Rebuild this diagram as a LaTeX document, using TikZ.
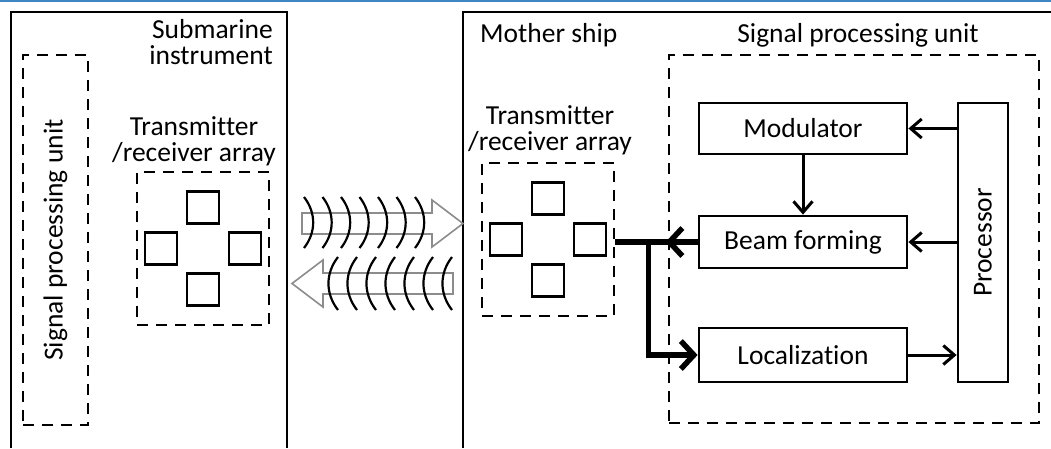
\documentclass[tikz,border=0pt]{standalone}
\usepackage{fontspec}
\setmainfont{Carlito}[Ligatures=NoCommon]
\usetikzlibrary{arrows.meta,calc}
\definecolor{topblue}{RGB}{62,134,196}
\definecolor{hollowgray}{RGB}{140,140,140}

\begin{document}
\begin{tikzpicture}[x=1pt, y=-1pt,
  font=\fontsize{27.5}{26}\selectfont,
  frame/.style={line width=2.8pt},
  dbox/.style={draw, line width=2.8pt, dash pattern=on 11pt off 8pt, inner sep=0pt},
  blk/.style={draw, line width=2.8pt, inner sep=0pt},
  elem/.style={draw, line width=2.8pt, minimum size=32pt, inner sep=0pt},
  link/.style={line width=3pt, -{Straight Barb[length=11pt, width=19pt]}},
  bus/.style={line width=5.5pt},
  busarrow/.style={bus, -{Straight Barb[length=13pt, width=28pt]}},
  hollow/.style={draw=hollowgray, fill=white, line width=1.6pt},
  wave/.style={line width=2.2pt},
  txt/.style={inner sep=0pt}]
  \useasboundingbox (0,0) rectangle (1051,448);
  \draw[topblue, line width=2.5pt] (0,1) -- (1051,1);
  \draw[frame] (11,448) -- (11,12) -- (287,12) -- (287,448);
  \draw[frame] (463,448) -- (463,12) -- (1051,12);

  \node[txt, anchor=east, align=right] (subm) at (273,42) {Submarine\\instrument};
  \node[txt, anchor=west] (mship) at (480,35) {Mother ship};
  \node[txt] (spuRtxt) at (858,35) {Signal processing unit};
  \node[dbox, minimum width=65pt, minimum height=370pt] (spuL) at (55.5,240)
    {\rotatebox{90}{Signal processing unit}};
  \node[dbox, minimum width=370pt, minimum height=368pt] (spuR) at (854,239) {};

  \node[txt, align=center] (arrLtxt) at (194,141) {Transmitter\\/receiver array};
  \node[txt, align=center] (arrRtxt) at (550,130) {Transmitter\\/receiver array};
  \foreach \a/\cx/\cy in {L/203/248.5, R/548/239.5}
    {
      \node[dbox, minimum width=132pt, minimum height=153pt] (arr\a) at (\cx,\cy) {};
      \foreach \e/\dx/\dy in {n/0/-41, w/-42/0, e/42/0, s/0/41}
        \node[elem] (arr\a-\e) at (\cx+\dx,\cy+\dy) {};
    }

  \draw[hollow] (302,213) -- (432,213) -- (432,200) -- (463,223.5) -- (432,247)
    -- (432,234) -- (302,234) -- cycle;
  \draw[hollow] (453,273) -- (323,273) -- (323,260) -- (292,283.5) -- (323,307)
    -- (323,294) -- (453,294) -- cycle;
  \foreach \m in {312,330.5,349,367.5,386,404.5,423}
    \draw[wave] (\m-8,197) to[bend left=38] (\m-8,248);
  \foreach \m in {330,349,368,387,406,425,444}
    \draw[wave] (\m+8,257) to[bend right=38] (\m+8,310);

  \node[blk, minimum width=208pt, minimum height=51pt] (mod) at (803,128.5) {Modulator};
  \node[blk, minimum width=208pt, minimum height=52pt] (bf) at (803,242) {Beam forming};
  \node[blk, minimum width=208pt, minimum height=54pt] (loc) at (803,355) {Localization};
  \node[blk, minimum width=50pt, minimum height=279pt] (proc) at (983,242.5)
    {\rotatebox{90}{Processor}};

  \draw[link] (proc.west |- mod.east) -- (mod.east);
  \draw[link] (proc.west |- bf.east) -- (bf.east);
  \draw[link] (loc.east) -- (loc.east -| proc.west);
  \draw[link] (mod.south) -- (bf.north);

  \coordinate (jn) at ($(arrR.east |- bf.west)!0.4!(bf.west)$);
  \draw[bus] (arrR.east |- bf.west) -- (bf.west);
  \draw[busarrow] (bf.west) -- ++(-32,0);
  \draw[busarrow] (jn) |- (loc.west);
\end{tikzpicture}
\end{document}
